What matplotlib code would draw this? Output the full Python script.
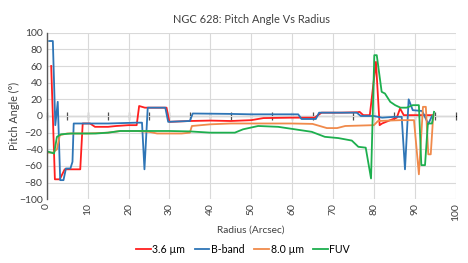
import matplotlib.pyplot as plt
import numpy as np

plt.rcParams['font.family'] = ['Lato', 'DejaVu Sans']

# 3.6 um
r36_x = [1.1, 2.0, 3.2, 4.4, 8.2, 8.8, 10.6, 11.8, 15, 17, 20, 22, 22.6, 24, 29.3, 30,
         35, 40, 45, 50, 53, 60, 65.5, 67.2, 72, 76, 76.5, 77.4, 79, 80.5, 81.4, 82,
         84, 85.6, 86.4, 87.3, 94.5]
r36_y = [60, -76, -76, -64, -64, -9, -9, -13, -13, -12, -11, -11, 12, 10, 10, -7,
         -6, -5.5, -6, -5, -2.5, -2, -2, 4, 4, 4.5, 5, 1, 1, 65, -11, -9,
         -5, -2, 9, 1, 1]

# B-band
bb_x = [0.6, 1.5, 2.1, 2.7, 3.3, 4.1, 4.7, 5.8, 6.3, 6.6, 15, 22, 23.3, 23.9, 24.7, 29,
        29.7, 35, 35.7, 45, 50, 61.5, 62.3, 65.8, 66.6, 75.8, 76.8, 80, 82, 85, 86.8,
        87.6, 88.5, 89.5, 91.8, 93.3, 94.2]
bb_y = [90, 90, -11, 17, -77, -77, -63, -63, -55, -9, -9, -8, -8, -64, 10, 10,
        -7, -6, 3, 2.5, 2, 2, -3.6, -3.6, 4, 4, 0, 0, -2, -1, -1,
        -64, 20, 7, 6, -9.6, 0]

# 8.0 um
r80_x = [0.5, 1.5, 2.5, 3.2, 5, 10, 15, 18, 22, 25, 27, 33, 35, 35.5, 40, 45, 50, 60,
         65, 68.5, 71, 73, 80, 81, 86.5, 88.6, 89.8, 91, 92, 92.7, 93.3, 93.9, 94.5]
r80_y = [-44, -44, -40, -23, -21, -21, -20, -18, -18, -19, -21, -21, -20, -12, -10, -9, -9, -9,
         -9.5, -14.5, -14.5, -12, -11, -6, -5, -5, -5, -70, 11, 11, -46, -46, 0]

# FUV
fuv_x = [0.5, 1.8, 2.5, 3.5, 6, 10, 12, 15, 18, 25, 30, 35, 40, 46, 48, 51.7, 56.6,
         60.7, 64.8, 68, 71.3, 74.6, 76.2, 78, 79.3, 80.1, 80.7, 81.9, 82.7, 84, 85.2,
         86.5, 88, 89.5, 91, 91.6, 92.5, 93.2, 94.2, 94.7]
fuv_y = [-43, -45, -25, -22, -21, -21, -21, -20, -18, -18, -18, -18.5, -20, -20, -16, -12, -13,
         -16, -19, -25, -26.5, -29.5, -37, -38, -75, 73, 73, 29, 27, 17, 13,
         10, 10, 13, 13, -59, -59, -9, -9, 5]

fig = plt.figure(figsize=(4.68, 2.63), dpi=100)
ax = fig.add_axes([0.0998, 0.2422, 0.8739, 0.6335])

ax.plot(r36_x, r36_y, color='#FF1F1F', lw=1.3, label='3.6 µm')
ax.plot(bb_x, bb_y, color='#2E75B6', lw=1.3, label='B-band')
ax.plot(r80_x, r80_y, color='#F08A4B', lw=1.3, label='8.0 µm')
ax.plot(fuv_x, fuv_y, color='#1DAF4E', lw=1.3, label='FUV')

ax.set_xlim(0, 100)
ax.set_ylim(-100, 100)
ax.set_xticks(np.arange(0, 101, 10))
ax.set_yticks(np.arange(-100, 101, 20))
ax.tick_params(axis='both', length=0, labelsize=7.5, colors='#404040', pad=3)
ax.tick_params(axis='x', labelrotation=90)
ax.grid(True, color='#D9D9D9', lw=0.8)
ax.set_axisbelow(True)
for s in ['top', 'right', 'bottom']:
    ax.spines[s].set_visible(False)
ax.spines['left'].set_color('#595959')
ax.spines['left'].set_linewidth(1.0)

# horizontal axis crossing at zero
zero_ax = ax.secondary_xaxis(0.5)
zero_ax.set_xticks(np.arange(0, 101, 5))
zero_ax.set_xticklabels([])
zero_ax.tick_params(direction='inout', length=6, width=0.9, color='#505050')
zero_ax.spines['bottom'].set_color('#505050')
zero_ax.spines['bottom'].set_linewidth(1.0)

ax.set_title('NGC 628: Pitch Angle Vs Radius', fontsize=7.9, color='#404040', pad=7)
ax.set_xlabel('Radius (Arcsec)', fontsize=7.3, color='#404040', labelpad=3)
ax.set_ylabel('Pitch Angle (°)', fontsize=7.8, color='#404040', labelpad=-1)

ax.legend(loc='upper center', bbox_to_anchor=(0.48, -0.21), ncol=4, frameon=False,
          fontsize=7.6, handlelength=1.4, columnspacing=0.9, handletextpad=0.15)

fig.savefig('out.png', dpi=100)
